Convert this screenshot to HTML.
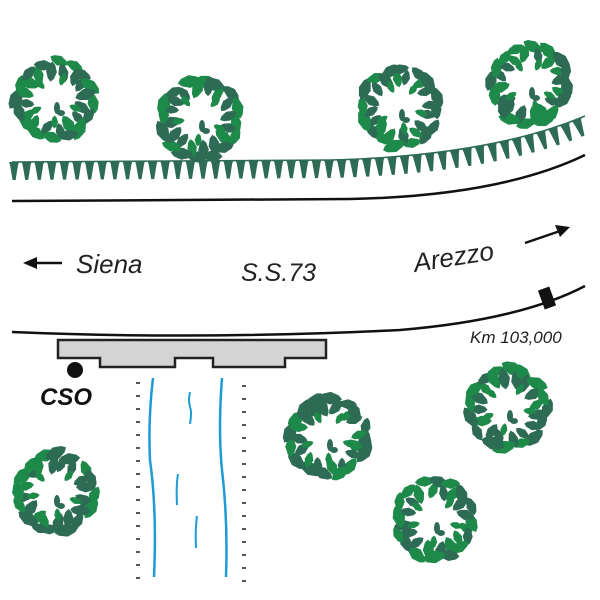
<!DOCTYPE html>
<html><head><meta charset="utf-8"><style>
html,body{margin:0;padding:0;background:#fff;width:600px;height:600px;overflow:hidden}
svg{display:block}
text{font-family:"Liberation Sans",Arial,sans-serif;font-style:italic;fill:#222}
</style></head><body>
<svg id="s" width="600" height="600" viewBox="0 0 600 600" xmlns="http://www.w3.org/2000/svg">
<g id="trees"></g>
<path id="hedge" d="M12,162 L330,160 Q490,156 585,116" fill="none" stroke="#2e6b55" stroke-width="1.5"/>
<g id="teeth" fill="#2e6b55"></g>
<path d="M12,201 L350,199 Q500,196 585,155" fill="none" stroke="#111" stroke-width="2.5"/>
<path id="road2" d="M12,332 Q200,340 400,330 Q520,320 585,286" fill="none" stroke="#111" stroke-width="2.5"/>
<rect x="541" y="288" width="12" height="20" fill="#111" transform="rotate(-20 547 298)"/>
<path d="M58,340 H326 V358 H285 V367 H213 V358 H175 V367 H100 V358 H58 Z" fill="#d4d4d4" stroke="#222" stroke-width="2.5"/>
<circle cx="75" cy="370" r="8" fill="#111"/>
<text x="40" y="405" font-size="24" font-weight="bold" style="fill:#111">CSO</text>
<path d="M153,378 Q148,420 150,460 Q157,510 154,577" fill="none" stroke="#1e9ad6" stroke-width="2.5"/>
<path d="M222,378 Q218,430 222,470 Q228,520 226,577" fill="none" stroke="#1e9ad6" stroke-width="2.5"/>
<path d="M190,392 Q188,400 190,407 Q192,412 190,424" fill="none" stroke="#1e9ad6" stroke-width="2"/>
<path d="M178,474 Q176,485 177,505" fill="none" stroke="#1e9ad6" stroke-width="2"/>
<path d="M197,516 Q195,530 196,548" fill="none" stroke="#1e9ad6" stroke-width="2"/>
<g id="dots" fill="#555"></g>
<line x1="62" y1="263" x2="34" y2="263" stroke="#111" stroke-width="2.5"/>
<polygon points="23,263 37,257 37,269" fill="#111"/>
<text x="76" y="273" font-size="26">Siena</text>
<text x="241" y="281" font-size="25">S.S.73</text>
<text x="415" y="272" font-size="26" transform="rotate(-9 415 272)">Arezzo</text>
<line x1="525" y1="243" x2="560" y2="231" stroke="#111" stroke-width="2.5"/>
<polygon points="570,227 555,225 560,237" fill="#111"/>
<text x="470" y="343" font-size="17">Km 103,000</text>
</svg>
<script>
var NS="http://www.w3.org/2000/svg";
function el(t,a,p){var e=document.createElementNS(NS,t);for(var k in a)e.setAttribute(k,a[k]);p.appendChild(e);return e;}
var seed=7;function rnd(){seed=(seed*9301+49297)%233280;return seed/233280;}
var T=document.getElementById('trees');
var centers=[[55,100],[200,118],[400,107],[530,85],[508,408],[328,437],[435,520],[55,493]];
var leaf='M0,-7 L9,-4 L13,0 L9,4 L0,7 L-9,4 L-13,0 L-9,-4 Z';
centers.forEach(function(c,ci){
  var g=el('g',{transform:'translate('+c[0]+','+c[1]+')'},T);
  var n=16;
  for(var i=0;i<n;i++){
    var a=(i+rnd()*0.4)/n*360;
    var r=36+rnd()*4;
    el('path',{d:leaf,fill:rnd()<0.55?'#1e8a4a':'#2e6b55',transform:'rotate('+a+') translate('+r+',0) rotate('+(90+rnd()*60-30)+') scale('+(0.7+rnd()*0.25)+')'},g);
    var a2=a+360/n/2;
    el('path',{d:leaf,fill:rnd()<0.6?'#2e6b55':'#1e8a4a',transform:'rotate('+a2+') translate('+(28+rnd()*4)+',0) rotate('+(rnd()*60-30)+') scale('+(0.6+rnd()*0.25)+')'},g);
  }
  for(var j=0;j<5;j++){
    var a3=j*72+rnd()*30;
    el('path',{d:leaf,fill:'#1e8a4a',transform:'rotate('+a3+') translate(22,0) scale(0.5)'},g);
  }
  el('ellipse',{cx:2,cy:8,rx:3,ry:6,fill:'#2e6b55'},g);
  el('ellipse',{cx:6,cy:13,rx:4,ry:3,fill:'#2e6b55'},g);
});
var h=document.getElementById('hedge'),L=h.getTotalLength(),TG=document.getElementById('teeth');
for(var d=2;d<L;d+=12.6){
  var p=h.getPointAtLength(d),q=h.getPointAtLength(Math.min(d+1,L));
  var ang=Math.atan2(q.y-p.y,q.x-p.x)*180/Math.PI;
  el('polygon',{points:'-5,0 5,0 4,3 1.5,18 -1.5,18 -4,3',transform:'translate('+p.x+','+p.y+') rotate('+ang+')'},TG);
}
var D=document.getElementById('dots');
for(var y=382;y<580;y+=13){
  el('rect',{x:136,y:y,width:4,height:2},D);
  el('rect',{x:242,y:y+3,width:4,height:2},D);
}
</script>
</body></html>
